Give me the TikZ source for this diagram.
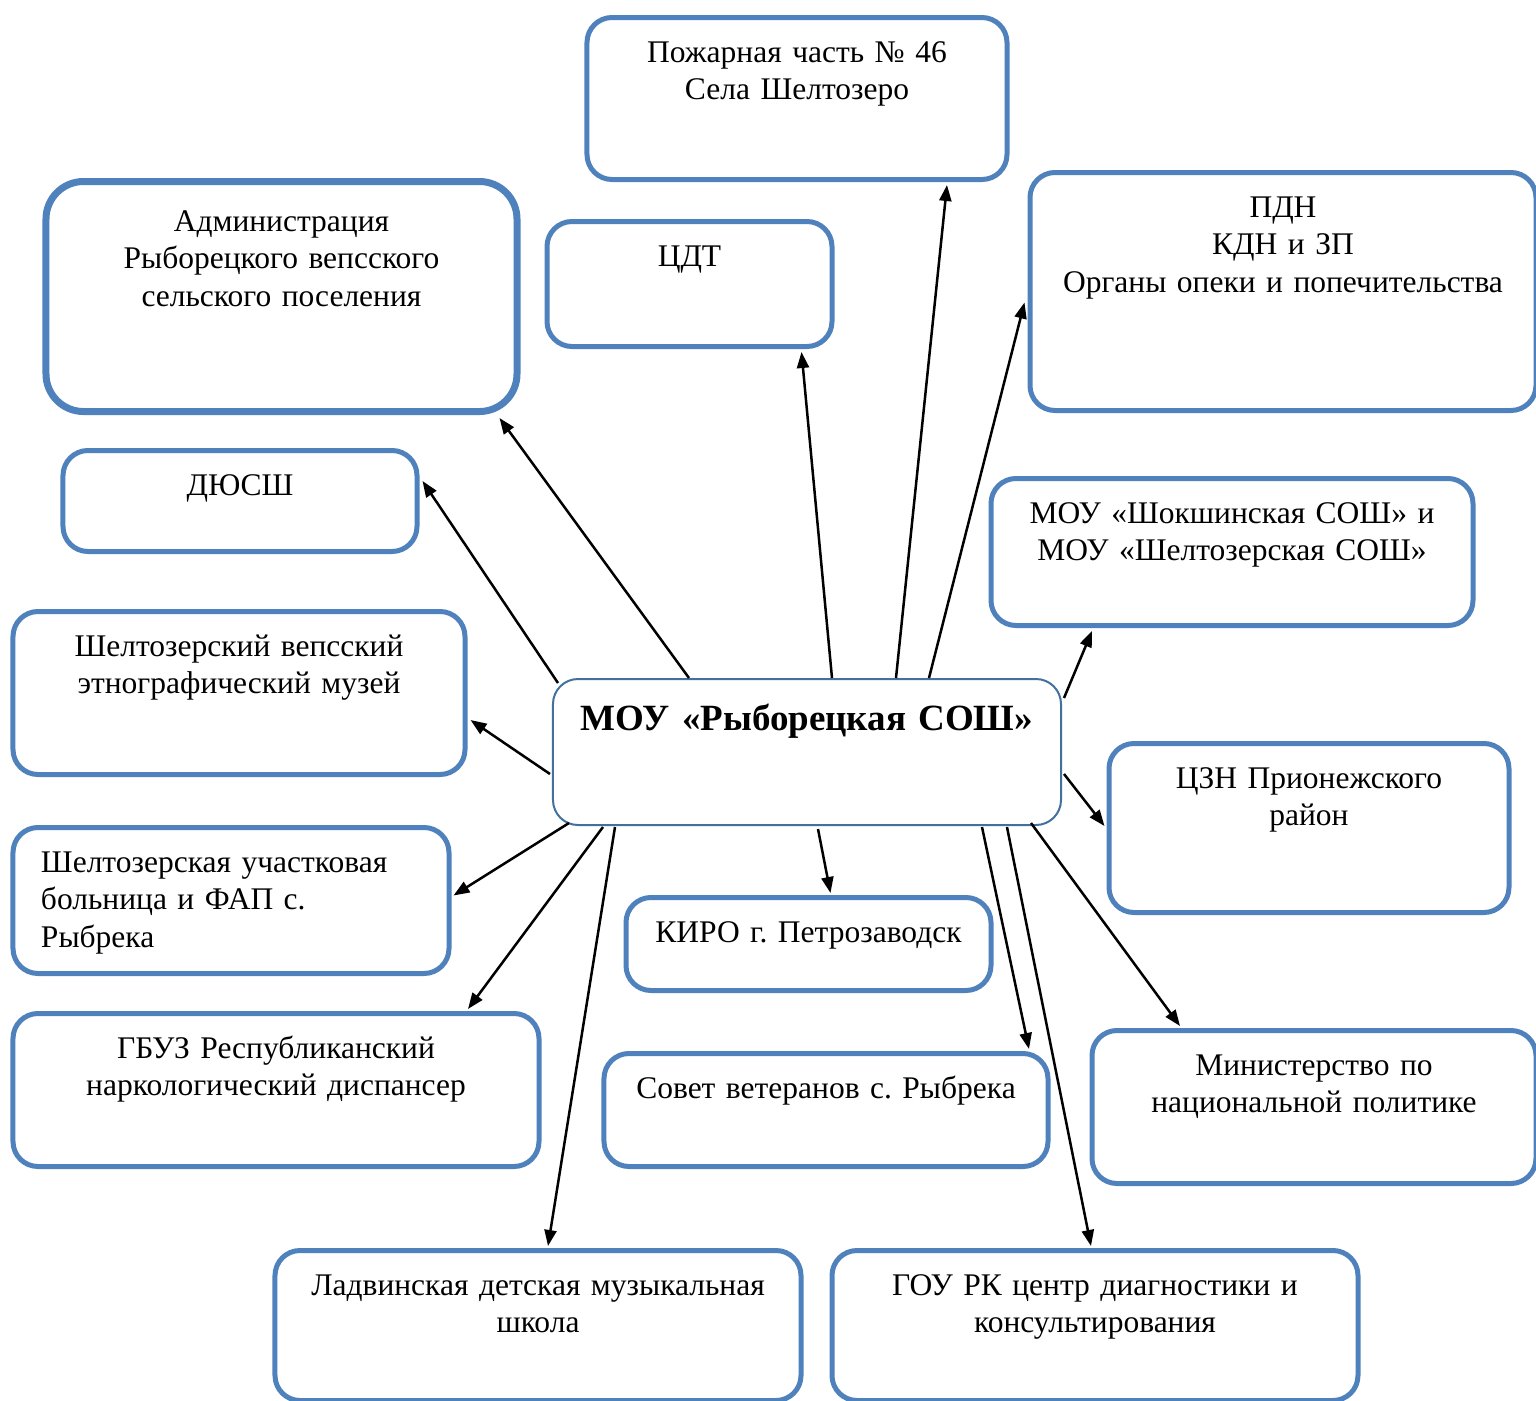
\documentclass[tikz,border=0pt]{standalone}
\usepackage{fontspec}
\setmainfont{Liberation Serif}
\usetikzlibrary{arrows.meta}
\definecolor{orgblue}{HTML}{4F81BD}
\definecolor{mainblue}{HTML}{41719C}
\frenchspacing

\begin{document}
\begin{tikzpicture}[x=0.4pt, y=-0.4pt,
  org/.style 2 args={draw=orgblue, line width=2pt, rounded corners=10pt, fill=white, anchor=north,
    align=center, inner xsep=0pt, inner ysep=18pt, text width=#1, text height=0pt, text depth=#2,
    font=\fontsize{12.6}{14.9}\selectfont},
  link/.style={-{Triangle[length=6.4pt,width=4.8pt]}, line width=1pt}]
  \useasboundingbox (0,0) rectangle (1536,1401);

  % partners round the school
  \node[org={168pt}{28.8pt}] (pozh) at (797,15) {Пожарная часть № 46\\Села Шелтозеро};
  \node[org={188.4pt}{54pt}, line width=2.8pt, rounded corners=15pt, text height=2pt] (admin) at (281.5,178)
    {Администрация\\Рыборецкого вепсского\\сельского поселения};
  \node[org={114pt}{14pt}] (cdt) at (689.5,219) {ЦДТ};
  \node[org={202.4pt}{59.2pt}] (pdn) at (1283,170) {ПДН\\КДН и ЗП\\Органы опеки и попечительства};
  \node[org={141.6pt}{4.4pt}] (dyussh) at (240,448) {ДЮСШ};
  \node[org={192.8pt}{22.8pt}] (shok) at (1232,476) {МОУ «Шокшинская СОШ» и\\МОУ «Шелтозерская СОШ»};
  \node[org={180.8pt}{29.2pt}] (muzei) at (239,609) {Шелтозерский вепсский\\этнографический музей};
  \node[org={160pt}{31.6pt}] (czn) at (1309,741) {ЦЗН Прионежского\\район};
  \node[org={152pt}{22.4pt}, align=left, inner xsep=11.2pt] (boln) at (231,825)
    {Шелтозерская участковая\\больница и ФАП с.\\Рыбрека};
  \node[org={146pt}{1.2pt}] (kiro) at (808.5,895) {КИРО г. Петрозаводск};
  \node[org={210.4pt}{25.2pt}] (gbuz) at (276,1011) {ГБУЗ Республиканский\\наркологический диспансер};
  \node[org={177.6pt}{9.2pt}] (sovet) at (826,1051) {Совет ветеранов с. Рыбрека};
  \node[org={177.6pt}{25.2pt}] (minist) at (1314,1028) {Министерство по\\национальной политике};
  \node[org={210.4pt}{24pt}] (ladv) at (538,1248) {Ладвинская детская музыкальная\\школа};
  \node[org={210.4pt}{24pt}] (gou) at (1095,1248) {ГОУ РК центр диагностики и\\консультирования};

  % the school
  \node[org={203.2pt}{20pt}, draw=mainblue, line width=0.8pt, text height=2.4pt,
    font=\fontsize{14.8}{18}\selectfont\bfseries] (mou) at (807,678) {МОУ «Рыборецкая СОШ»};

  \draw[link] ([shift={(-118,0)}]mou.north) -- ([shift={(218,3)}]admin.south);
  \draw[link] ([shift={(6,5)}]mou.north west) -- ([shift={(3,-20)}]dyussh.east);
  \draw[link] ([shift={(-2,22)}]mou.west) -- ([shift={(3,27)}]muzei.east);
  \draw[link] ([shift={(17,-3)}]mou.south west) -- ([shift={(2,-5)}]boln.east);
  \draw[link] ([shift={(51,1)}]mou.south west) -- ([shift={(192,-2)}]gbuz.north);
  \draw[link] ([shift={(63,1)}]mou.south west) -- ([shift={(10,-2)}]ladv.north);
  \draw[link] ([shift={(11,3)}]mou.south) -- ([shift={(22,-2)}]kiro.north);
  \draw[link] ([shift={(175,1)}]mou.south) -- ([shift={(203,-2)}]sovet.north);
  \draw[link] ([shift={(200,1)}]mou.south) -- ([shift={(-4,-2)}]gou.north);
  \draw[link] ([shift={(-31,-3)}]mou.south east) -- ([shift={(-134,-2)}]minist.north);
  \draw[link] ([shift={(2,22)}]mou.east) -- ([shift={(-2,-2)}]czn.west);
  \draw[link] ([shift={(2,-54)}]mou.east) -- ([shift={(-140,3)}]shok.south);
  \draw[link] ([shift={(122,0)}]mou.north) -- ([shift={(-3,11)}]pdn.west);
  \draw[link] ([shift={(89,0)}]mou.north) -- ([shift={(150,3)}]pozh.south);
  \draw[link] ([shift={(25,0)}]mou.north) -- ([shift={(112,3)}]cdt.south);
\end{tikzpicture}
\end{document}
